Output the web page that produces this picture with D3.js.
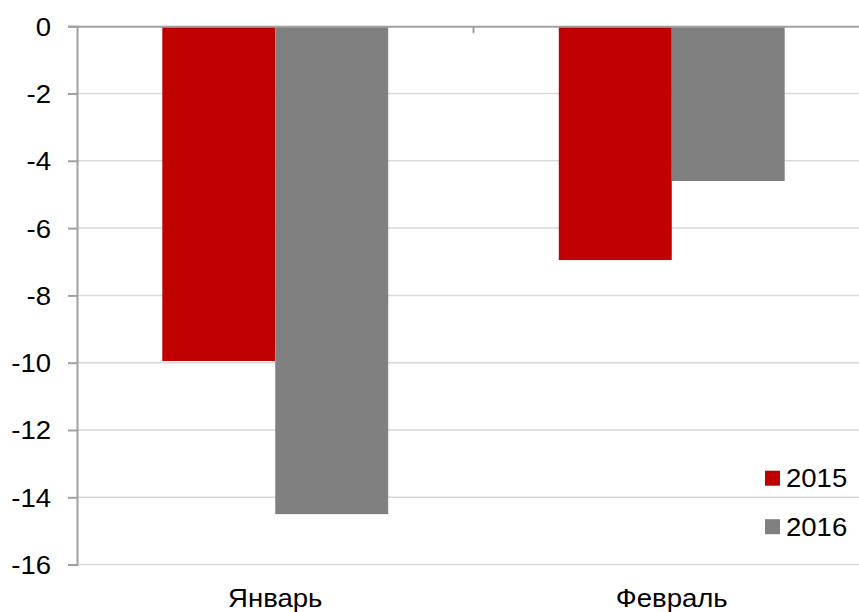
<!DOCTYPE html>
<html>
<head>
<meta charset="utf-8">
<script src="https://cdn.jsdelivr.net/npm/d3@7"></script>
<style>
  html, body { margin: 0; padding: 0; background: #fff; }
  svg text { font-family: "Liberation Sans", Arial, sans-serif; fill: #000; }
</style>
</head>
<body>
<svg id="chart" width="859" height="612"></svg>
<script>
// Monthly values by year
const categories = ["Январь", "Февраль"];
const years = ["2015", "2016"];
const values2015 = [-9.95, -6.95];
const values2016 = [-14.5, -4.6];
const yTicks = [0, -2, -4, -6, -8, -10, -12, -14, -16];
const colors = { "2015": "#c00000", "2016": "#808080" };

const rows = categories.map((c, i) => ({ cat: c, "2015": values2015[i], "2016": values2016[i] }));

const svg = d3.select("#chart");
const plot = { left: 77, right: 870, top: 26.2, bottom: 564.6 };
const fontSize = "25.5px";
const stretch = 1.08; // slightly wide lettering

const x = d3.scaleBand().domain(categories).range([plot.left, plot.right]).paddingInner(0).paddingOuter(0);
// bars sit in the middle of each category group
const groupPad = 85.3;
const x1 = d3.scaleBand().domain(years).range([groupPad, x.bandwidth() - groupPad]).padding(0);

const y = d3.scaleLinear().domain([0, -16]).range([plot.top, plot.bottom]);

// horizontal gridlines
svg.append("g")
  .selectAll("line")
  .data(yTicks.filter(d => d !== 0))
  .join("line")
  .attr("x1", plot.left).attr("x2", plot.right)
  .attr("y1", d => y(d)).attr("y2", d => y(d))
  .attr("stroke", "#d9d9d9").attr("stroke-width", 1.5);

// bars
const groups = svg.append("g")
  .selectAll("g")
  .data(rows)
  .join("g")
  .attr("transform", d => `translate(${x(d.cat)},0)`);

groups.selectAll("rect")
  .data(d => years.map(k => ({ key: k, value: d[k] })))
  .join("rect")
  .attr("x", d => x1(d.key))
  .attr("width", x1.bandwidth())
  .attr("y", d => y(0))
  .attr("height", d => y(d.value) - y(0))
  .attr("fill", d => colors[d.key]);

// y axis
const yAxis = d3.axisLeft(y).tickValues(yTicks).tickSize(9).tickFormat(d => String(d));
const ya = svg.append("g").attr("transform", `translate(${plot.left},0)`).call(yAxis);
ya.select(".domain").attr("stroke", "#a0a0a0").attr("stroke-width", 2);
ya.selectAll(".tick line").attr("stroke", "#a0a0a0").attr("stroke-width", 2);
ya.selectAll(".tick text")
  .attr("x", -26 / stretch)
  .attr("dy", "0.35em")
  .attr("transform", `scale(${stretch},1)`)
  .style("font-size", fontSize)
  .attr("fill", "#000");

// zero line with category separators
const xa = svg.append("g").attr("transform", `translate(0,${y(0)})`)
  .call(d3.axisBottom(x).tickSize(0).tickFormat(""));
xa.select(".domain").attr("stroke", "#a0a0a0").attr("stroke-width", 2);
xa.selectAll(".tick").remove();
svg.append("g")
  .selectAll("line")
  .data(categories.slice(1))
  .join("line")
  .attr("x1", d => x(d)).attr("x2", d => x(d))
  .attr("y1", y(0)).attr("y2", y(0) + 7)
  .attr("stroke", "#a0a0a0").attr("stroke-width", 2);

// category labels
svg.append("g")
  .selectAll("text")
  .data(categories)
  .join("text")
  .attr("transform", d => `translate(${x(d) + x.bandwidth() / 2},607) scale(${stretch},1)`)
  .attr("text-anchor", "middle")
  .style("font-size", fontSize)
  .text(d => d);

// legend
const legend = svg.append("g").selectAll("g")
  .data(years)
  .join("g")
  .attr("transform", (d, i) => `translate(765,${470.7 + i * 48.5})`);
legend.append("rect").attr("width", 15).attr("height", 15).attr("fill", d => colors[d]);
legend.append("text")
  .attr("transform", `translate(21,16.5) scale(${stretch},1)`)
  .style("font-size", fontSize)
  .text(d => d);
</script>
</body>
</html>
